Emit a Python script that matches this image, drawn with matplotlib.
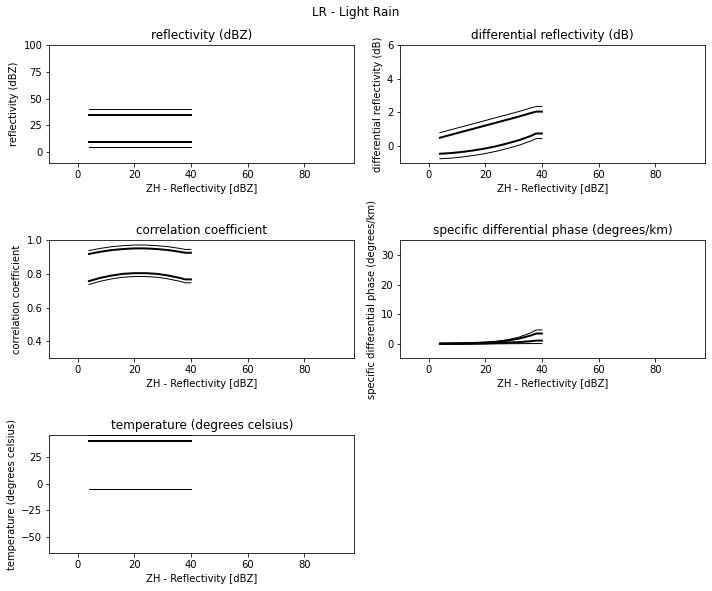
import numpy as np
import matplotlib
matplotlib.use("Agg")
import matplotlib.pyplot as plt

# reflectivity axis (x for every panel)
zh = [4, 8, 12, 16, 20, 24, 28, 32, 36, 38, 40]

# membership limits for light rain
# order: thin lower, thick lower, thick upper, thin upper
refl_lo2 = [5] * 11
refl_lo1 = [10] * 11
refl_hi1 = [35] * 11
refl_hi2 = [40] * 11

zdr_lo2 = [-0.75, -0.71, -0.64, -0.55, -0.44, -0.30, -0.13, 0.06, 0.30, 0.45, 0.45]
zdr_lo1 = [-0.45, -0.41, -0.34, -0.25, -0.14, 0.00, 0.17, 0.36, 0.60, 0.75, 0.75]
zdr_hi1 = [0.50, 0.68, 0.86, 1.04, 1.22, 1.40, 1.58, 1.76, 1.96, 2.05, 2.05]
zdr_hi2 = [0.80, 0.98, 1.16, 1.34, 1.52, 1.70, 1.88, 2.06, 2.26, 2.35, 2.35]

rho_lo2 = [0.738, 0.757, 0.771, 0.781, 0.785, 0.785, 0.781, 0.771, 0.757, 0.748, 0.748]
rho_lo1 = [0.758, 0.777, 0.791, 0.801, 0.805, 0.805, 0.801, 0.791, 0.777, 0.768, 0.768]
rho_hi1 = [0.919, 0.932, 0.942, 0.948, 0.952, 0.952, 0.948, 0.942, 0.932, 0.926, 0.926]
rho_hi2 = [0.939, 0.952, 0.962, 0.968, 0.972, 0.972, 0.968, 0.962, 0.952, 0.946, 0.946]

kdp_lo2 = [-0.3, -0.28, -0.25, -0.2, -0.15, -0.1, -0.06, -0.03, 0.0, 0.0, 0.0]
kdp_lo1 = [-0.1, -0.08, -0.05, 0.0, 0.08, 0.18, 0.32, 0.5, 0.78, 1.0, 1.0]
kdp_hi1 = [0.0, 0.05, 0.1, 0.2, 0.35, 0.6, 1.0, 1.7, 2.7, 3.4, 3.4]
kdp_hi2 = [0.1, 0.15, 0.2, 0.3, 0.45, 0.75, 1.3, 2.2, 3.6, 4.6, 4.6]

temp_lo2 = [-5] * 11
temp_lo1 = [40] * 11
temp_hi1 = [40] * 11
temp_hi2 = [45] * 11

titles = ["reflectivity (dBZ)", "differential reflectivity (dB)",
          "correlation coefficient", "specific differential phase (degrees/km)",
          "temperature (degrees celsius)"]
ylims = [(-10, 100), (-1, 6), (0.3, 1.0), (-5, 35), (-65, 45)]
yticks = [[0, 25, 50, 75, 100], [0, 2, 4, 6], [0.4, 0.6, 0.8, 1.0],
          [0, 10, 20, 30], [-50, -25, 0, 25]]
series = [
    (refl_lo2, refl_lo1, refl_hi1, refl_hi2),
    (zdr_lo2, zdr_lo1, zdr_hi1, zdr_hi2),
    (rho_lo2, rho_lo1, rho_hi1, rho_hi2),
    (kdp_lo2, kdp_lo1, kdp_hi1, kdp_hi2),
    (temp_lo2, temp_lo1, temp_hi1, temp_hi2),
]

W, H = 712, 591
fig = plt.figure(figsize=(W / 72, H / 72), dpi=72)
fig.suptitle("LR - Light Rain", fontsize=12, y=0.99)

# column lefts in pixels; both columns share width and x-limits
col_left = [49.3, 400.3]
ax_w = 305.0
row_tops = [45.0, 240.3, 435.3]
ax_h = 118.0

for i, (lo2, lo1, hi1, hi2) in enumerate(series):
    left = col_left[i % 2]
    top = row_tops[i // 2]
    ax = fig.add_axes([left / W, 1 - (top + ax_h) / H, ax_w / W, ax_h / H])
    ax.plot(zh, lo2, color="k", lw=1)
    ax.plot(zh, lo1, color="k", lw=2)
    ax.plot(zh, hi1, color="k", lw=2)
    ax.plot(zh, hi2, color="k", lw=1)
    ax.set_xlim(-10, 97.7)
    ax.set_ylim(*ylims[i])
    ax.set_yticks(yticks[i])
    ax.set_xticks([0, 20, 40, 60, 80])
    ax.set_title(titles[i], fontsize=12)
    ax.set_ylabel(titles[i], fontsize=10)
    ax.set_xlabel("ZH - Reflectivity [dBZ]", fontsize=10)

fig.savefig("out.png", dpi=72)
